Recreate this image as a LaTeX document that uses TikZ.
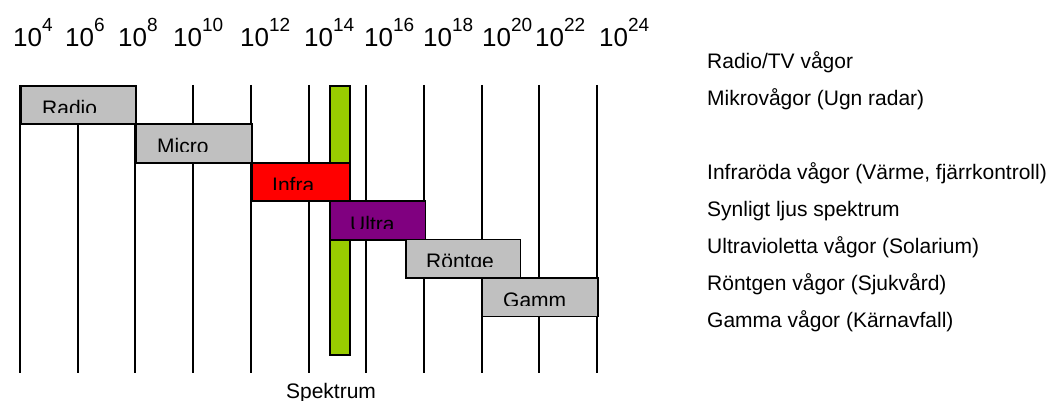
\documentclass[tikz,border=0pt]{standalone}
\usepackage{fontspec}
\setmainfont{Liberation Sans}
\definecolor{boxgray}{HTML}{C0C0C0}
\definecolor{infrared}{HTML}{FF0000}
\definecolor{uvpurple}{HTML}{800080}
\definecolor{visgreen}{HTML}{99CC00}
\tikzset{
  gridline/.style={line width=2pt, black},
  band/.style={draw=black, line width=1.8pt, inner sep=0pt, anchor=north west, minimum height=38.5pt},
  bandlabel/.style={anchor=base west, inner sep=0pt, font=\fontsize{21}{25}\selectfont},
  sidelabel/.style={anchor=base west, inner sep=0pt, font=\fontsize{21}{25}\selectfont},
  toplabel/.style={anchor=base west, inner sep=0pt, font=\fontsize{26}{30}\selectfont},
}
\newcommand{\pw}[1]{{\fontsize{26}{30}\selectfont 10}\raisebox{15pt}{\fontsize{19}{22}\selectfont #1}}
\begin{document}
\begin{tikzpicture}[x=1pt,y=-1pt]
\useasboundingbox (0,0) rectangle (1053,401);
% top exponents
\node[toplabel] (e4)  at (13,47)  {\pw{4}};
\node[toplabel] (e6)  at (65,47)  {\pw{6}};
\node[toplabel] (e8)  at (118,47) {\pw{8}};
\node[toplabel] (e10) at (173,47) {\pw{10}};
\node[toplabel] (e12) at (240,47) {\pw{12}};
\node[toplabel] (e14) at (304,47) {\pw{14}};
\node[toplabel] (e16) at (364,47) {\pw{16}};
\node[toplabel] (e18) at (423,47) {\pw{18}};
\node[toplabel] (e20) at (482,47) {\pw{20}};
\node[toplabel] (e22) at (535,47) {\pw{22}};
\node[toplabel] (e24) at (599,47) {\pw{24}};
% grid lines
\foreach \i in {0,...,10} {
  \coordinate (t\i) at ({20+57.7*\i},85);
  \coordinate (b\i) at ({20+57.7*\i},373);
  \draw[gridline] (t\i) -- (b\i);
}
% visible light bar
\node[draw=black, line width=1.8pt, fill=visgreen, anchor=north west, inner sep=0pt,
      minimum width=20pt, minimum height=269pt] (vis) at (329,85) {};
% bands
\node[band, fill=boxgray, minimum width=115.4pt] (radio) at (20,85) {};
\node[band, fill=boxgray, minimum width=115.4pt] (micro) at (135.4,123.5) {};
\node[band, fill=infrared, minimum width=98.2pt] (infra) at (250.8,162) {};
\node[band, fill=uvpurple, minimum width=95.6pt] (ultra) at (329,200.5) {};
\node[band, fill=boxgray, minimum width=114.5pt] (rontge) at (405,238.5) {};
\node[band, fill=boxgray, minimum width=115.4pt] (gamm) at (481.6,277) {};
% band labels (clipped at bottom as in the reference)
\begin{scope}\clip (20,85) rectangle (135.4,113);
\node[bandlabel] (lradio) at (42,115.5) {Radio};\end{scope}
\begin{scope}\clip (135.4,123.5) rectangle (250.8,151.5);
\node[bandlabel] (lmicro) at (157,154) {Micro};\end{scope}
\begin{scope}\clip (250.8,162) rectangle (349,190);
\node[bandlabel] (linfra) at (272,192.5) {Infra};\end{scope}
\begin{scope}\clip (329,200.5) rectangle (424.6,228.5);
\node[bandlabel] (lultra) at (350,231) {Ultra};\end{scope}
\begin{scope}\clip (405,238.5) rectangle (519.5,266.5);
\node[bandlabel] (lrontge) at (426,269) {Röntge};\end{scope}
\begin{scope}\clip (481.6,277) rectangle (597,305);
\node[bandlabel] (lgamm) at (503,307.5) {Gamm};\end{scope}
% side labels
\node[sidelabel] (s1) at (707,69)  {Radio/TV vågor};
\node[sidelabel] (s2) at (707,106) {Mikrovågor (Ugn radar)};
\node[sidelabel] (s3) at (707,180) {Infraröda vågor (Värme, fjärrkontroll)};
\node[sidelabel] (s4) at (707,216) {Synligt ljus spektrum};
\node[sidelabel] (s5) at (707,253) {Ultravioletta vågor (Solarium)};
\node[sidelabel] (s6) at (707,290) {Röntgen vågor (Sjukvård)};
\node[sidelabel] (s7) at (707,327) {Gamma vågor (Kärnavfall)};
% caption
\node[anchor=base, inner sep=0pt, font=\fontsize{21}{25}\selectfont] (cap) at (331,398) {Spektrum};
\end{tikzpicture}
\end{document}
